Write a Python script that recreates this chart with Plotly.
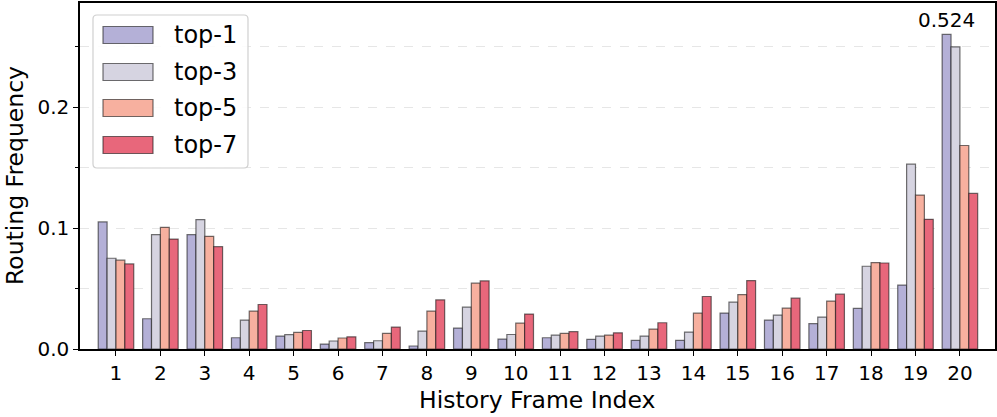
import plotly.graph_objects as go

frames = list(range(1, 21))
tick_labels = [str(i) for i in frames]

top1 = [0.105, 0.025, 0.0945, 0.0093, 0.0107, 0.0041, 0.0052, 0.0025, 0.0173, 0.0082,
        0.0093, 0.0079, 0.0071, 0.0071, 0.0297, 0.0239, 0.0209, 0.0335, 0.0528, 0.524]
top3 = [0.075, 0.0945, 0.107, 0.0239, 0.0118, 0.0066, 0.0068, 0.0148, 0.0346, 0.012,
        0.0115, 0.0107, 0.0107, 0.014, 0.0387, 0.028, 0.0264, 0.0684, 0.1528, 0.2498]
top5 = [0.0734, 0.1006, 0.0931, 0.0313, 0.0137, 0.0091, 0.0129, 0.0313, 0.0544, 0.0214,
        0.0129, 0.0115, 0.0165, 0.0297, 0.045, 0.0338, 0.0396, 0.0714, 0.1272, 0.1682]
top7 = [0.0703, 0.0909, 0.0846, 0.0368, 0.0153, 0.0101, 0.0181, 0.0406, 0.0563, 0.0289,
        0.0143, 0.0134, 0.0217, 0.0434, 0.0566, 0.042, 0.0453, 0.0711, 0.1072, 0.1286]

series_names = ["top-1", "top-3", "top-5", "top-7"]
series_values = [top1, top3, top5, top7]
colors = ["#b4b0d7", "#d6d4e1", "#f7b09f", "#e8677b"]
clip_at = 0.26  # bars taller than this are truncated and annotated

FONT = "DejaVu Sans"
W, H = 997, 417
pl, pr, pt, pb = 80, 995, 3, 349

def px_to_paper_x(x):
    return (x - pl) / (pr - pl)

def px_to_paper_y(y):
    return (pb - y) / (pb - pt)

fig = go.Figure()
for name, vals, col in zip(series_names, series_values, colors):
    fig.add_trace(go.Bar(
        x=frames, y=[min(v, clip_at) for v in vals], name=name,
        marker=dict(color=col, line=dict(color="rgba(20,20,20,0.6)", width=1.2)),
        showlegend=False,
    ))

# annotation for clipped bar(s)
for i, v in enumerate(top1):
    if v > clip_at:
        fig.add_annotation(x=frames[i] - 0.3, y=clip_at, text=f"{v:.3f}", showarrow=False,
                           yanchor="bottom", yshift=0, font=dict(family=FONT, size=20, color="black"))

# custom legend (rounded box)
L_x0, L_x1, L_y0, L_y1, R = 93, 248, 15, 168, 4
X = px_to_paper_x
Y = px_to_paper_y
legend_path = (
    f"M {X(L_x0+R)},{Y(L_y0)} L {X(L_x1-R)},{Y(L_y0)} "
    f"Q {X(L_x1)},{Y(L_y0)} {X(L_x1)},{Y(L_y0+R)} "
    f"L {X(L_x1)},{Y(L_y1-R)} Q {X(L_x1)},{Y(L_y1)} {X(L_x1-R)},{Y(L_y1)} "
    f"L {X(L_x0+R)},{Y(L_y1)} Q {X(L_x0)},{Y(L_y1)} {X(L_x0)},{Y(L_y1-R)} "
    f"L {X(L_x0)},{Y(L_y0+R)} Q {X(L_x0)},{Y(L_y0)} {X(L_x0+R)},{Y(L_y0)} Z"
)
fig.add_shape(type="path", xref="paper", yref="paper", path=legend_path,
              line=dict(color="#d0d0d0", width=1.2), fillcolor="rgba(255,255,255,0.85)", layer="above")
row_y = [35, 72, 108, 145]
for name, col, ry in zip(series_names, colors, row_y):
    fig.add_shape(type="rect", xref="paper", yref="paper",
                  x0=X(103), x1=X(153), y0=Y(ry + 8.5), y1=Y(ry - 8.5),
                  fillcolor=col, line=dict(color="rgba(20,20,20,0.6)", width=1.2), layer="above")
    fig.add_annotation(xref="paper", yref="paper", x=X(172), y=Y(ry),
                       text=name, showarrow=False, xanchor="left", yanchor="middle",
                       font=dict(family=FONT, size=24, color="black"))

# axis titles
fig.add_annotation(xref="paper", yref="paper", x=0.5, y=Y(400),
                   text="History Frame Index", showarrow=False, xanchor="center", yanchor="middle",
                   font=dict(family=FONT, size=23.5, color="black"))
fig.add_annotation(xref="paper", yref="paper", x=X(15), y=0.5,
                   text="Routing Frequency", showarrow=False, xanchor="center", yanchor="middle",
                   textangle=-90, font=dict(family=FONT, size=23.5, color="black"))

fig.update_layout(
    width=W, height=H,
    margin=dict(l=pl, r=W - pr, t=pt, b=H - pb, autoexpand=False),
    plot_bgcolor="white", paper_bgcolor="white",
    barmode="group", bargap=0.2, bargroupgap=0,
    font=dict(family=FONT, size=20, color="black"),
)
fig.update_xaxes(
    range=[0.19, 20.79], tickmode="array", tickvals=frames, ticktext=tick_labels,
    ticks="outside", ticklen=5, tickwidth=1.3, tickcolor="black",
    showline=True, linecolor="black", linewidth=1.5, mirror=True,
    showgrid=False, zeroline=False, automargin=False,
    tickfont=dict(family=FONT, size=20),
)
fig.update_yaxes(
    range=[0, 0.286], tickmode="array", tickvals=[0, 0.1, 0.2], ticktext=["0.0", "0.1", "0.2"],
    ticks="outside", ticklen=5, tickwidth=1.3, tickcolor="black",
    showline=True, linecolor="black", linewidth=1.5, mirror=True,
    showgrid=True, gridcolor="#e6e6e6", griddash="dash", gridwidth=1,
    minor=dict(tickvals=[0.05, 0.15, 0.25], ticks="outside", ticklen=3, tickcolor="black",
               showgrid=True, gridcolor="#e6e6e6", griddash="dash", gridwidth=1),
    zeroline=False, automargin=False,
    tickfont=dict(family=FONT, size=20),
)

fig.write_html("out.html", config={"displayModeBar": False},
               post_script="document.body.style.margin='0';document.body.style.overflow='hidden';")
